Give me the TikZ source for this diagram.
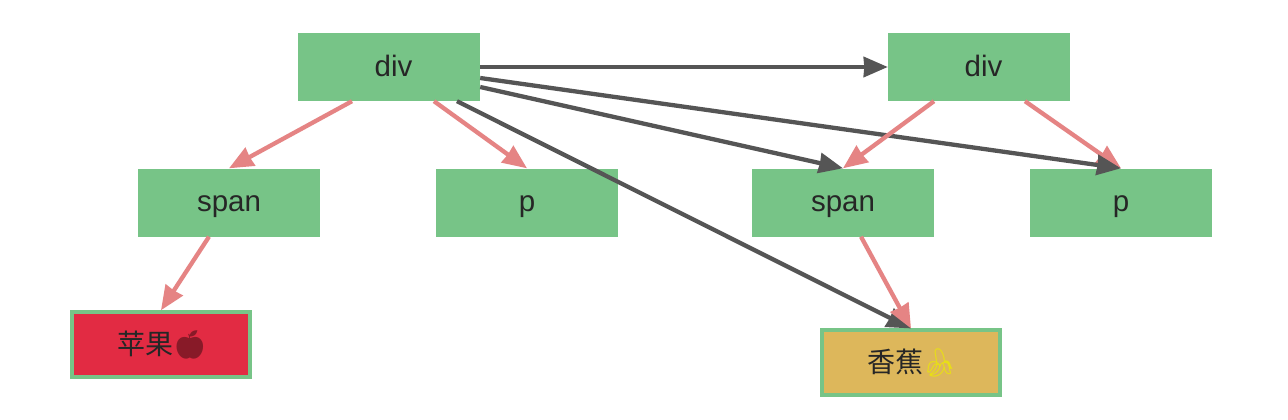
\documentclass[tikz,border=0pt]{standalone}
\usepackage{fontspec}
\setmainfont{Liberation Sans}
\newfontfamily\cjkfont{Noto Sans CJK SC}
\newfontfamily\emojifont{Noto Emoji}
\usetikzlibrary{arrows.meta}
\definecolor{boxgreen}{HTML}{77C487}
\definecolor{linkred}{HTML}{E58484}
\definecolor{linkgray}{HTML}{555555}
\definecolor{applered}{HTML}{E22B43}
\definecolor{bananay}{HTML}{DDB75B}
\definecolor{inktext}{HTML}{262626}
\tikzset{
  treebox/.style={fill=boxgreen,minimum width=182pt,minimum height=68pt,inner sep=0pt,text=inktext,text height=23.5pt,text depth=5pt,font=\fontsize{29.5}{32}\selectfont},
  leafbox/.style={draw=boxgreen,line width=4pt,minimum width=178pt,minimum height=64.5pt,inner sep=0pt,text=inktext,font=\fontsize{28}{32}\selectfont\cjkfont},
  redlink/.style={draw=linkred,line width=4.3pt,-{Stealth[length=24pt,width=20pt,inset=0.5pt]}},
  graylink/.style={draw=linkgray,line width=4.3pt,-{Stealth[length=24pt,width=20pt,inset=0.5pt]}}
}
\begin{document}
\begin{tikzpicture}[x=1pt,y=-1pt]
\useasboundingbox[fill=white] (0,0) rectangle (1288,420);
\node[treebox] (div1) at (389,67) {\hspace*{9pt}div};
\node[treebox] (div2) at (979,67) {\hspace*{9pt}div};
\node[treebox] (span1) at (229,202.5) {span};
\node[treebox] (p1) at (527,202.5) {p};
\node[treebox] (span2) at (843,202.5) {span};
\node[treebox] (p2) at (1121,202.5) {p};
\node[leafbox,fill=applered] (apple) at (161,344.5) {\hspace*{3pt}苹果\hspace{-1pt}{\emojifont\color{applered!60!black}🍎}};
\node[leafbox,fill=bananay] (banana) at (911,362.7) {\hspace*{3pt}香蕉\hspace{-1pt}{\emojifont\color{yellow!90!black}🍌}};
% red tree links
\draw[redlink] ([xshift=-37pt]div1.south) -- (span1.north);
\draw[redlink] ([xshift=45pt]div1.south) -- (p1.north);
\draw[redlink] ([xshift=46pt]div2.south) -- (p2.north);
\draw[redlink] ([xshift=-20pt]span1.south) -- (apple.north);
% gray links
\draw[graylink] (div1.east) -- (div2.west);
\draw[graylink] ([yshift=-20pt]div1.east) -- (span2.north);
\draw[graylink] ([yshift=-11pt]div1.east) -- (p2.north);
\draw[graylink] ([xshift=68pt]div1.south) -- (banana.north);
% red links drawn over gray
\draw[redlink] ([xshift=18pt]span2.south) -- (banana.north);
\draw[redlink] ([xshift=-45pt]div2.south) -- (span2.north);
\end{tikzpicture}
\end{document}
